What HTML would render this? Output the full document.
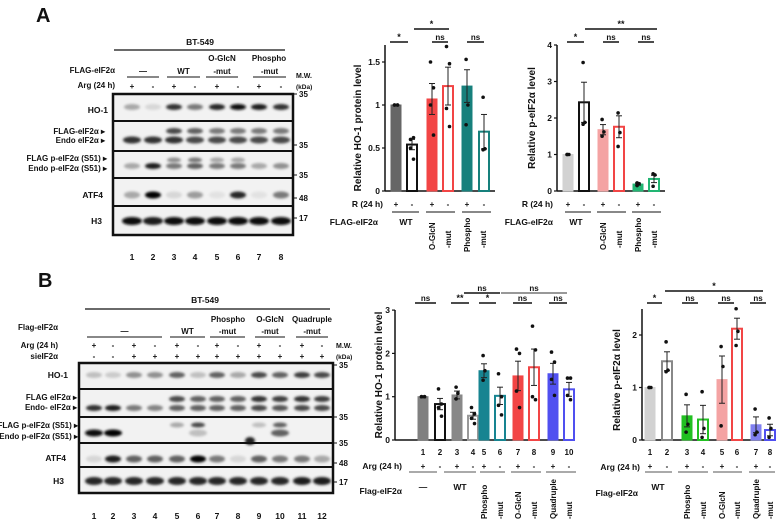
<!DOCTYPE html>
<html><head><meta charset="utf-8"><style>
html,body{margin:0;padding:0;background:#fff}
svg{display:block}
text{font-family:"Liberation Sans",Arial,sans-serif;font-weight:bold;fill:#111}
</style></head><body>
<svg id="fig" width="784" height="521" viewBox="0 0 784 521" xmlns="http://www.w3.org/2000/svg">
<defs><filter id="blur" x="-50%" y="-100%" width="200%" height="300%"><feGaussianBlur stdDeviation="1.2"/></filter></defs>
<text x="36" y="22" font-size="20">A</text>
<text x="38" y="287" font-size="20">B</text>
</svg>
<script>
// ---------- chart data ----------
const a1Values=[1.0,0.54,1.07,1.22,1.22,0.69];
const a1Errors=[0,0.06,0.18,0.22,0.19,0.2];
const a1Points=[[1,1,1,1],[0.6,0.62,0.5,0.37],[1.5,1.2,1.0,0.65],[1.68,1.48,0.96,0.75],[1.53,1.0,0.77],[1.09,0.49,0.48]];
const a1Ticks=[0,0.5,1,1.5];
const a1TickLabels=["0","0.5","1","1.5"];
const a2Values=[1.0,2.43,1.68,1.76,0.19,0.33];
const a2Errors=[0,0.55,0.14,0.3,0.03,0.1];
const a2Points=[[1,1,1],[3.52,1.88,1.83],[1.96,1.62,1.5],[2.14,1.6,1.22],[0.22,0.2,0.15],[0.47,0.44,0.13]];
const a2Ticks=[0,1,2,3,4];
const a2TickLabels=["0","1","2","3","4"];
const b1Values=[1.0,0.83,1.04,0.56,1.6,1.02,1.48,1.68,1.53,1.17];
const b1Errors=[0,0.13,0.09,0.08,0.16,0.2,0.34,0.42,0.24,0.16];
const b1Points=[[1,1,1,1],[1.18,0.83,0.75,0.55],[1.22,1.08,0.95],[0.75,0.6,0.5,0.38],[1.95,1.6,1.38],[1.53,1.0,0.8,0.58],[2.1,2.0,1.13,0.75],[2.63,2.08,1.0,0.93],[2.03,1.8,1.4,1.03],[1.43,1.43,1.03,0.93]];
const b1Ticks=[0,1,2,3];
const b1TickLabels=["0","1","2","3"];
const b2Values=[1.0,1.5,0.46,0.39,1.15,2.12,0.29,0.19];
const b2Errors=[0,0.18,0.21,0.27,0.45,0.2,0.15,0.11];
const b2Points=[[1,1,1],[1.87,1.33,1.3],[0.87,0.3,0.15],[0.92,0.22,0.05],[1.78,1.4,0.27],[2.5,2.07,1.8],[0.59,0.15,0.1],[0.42,0.22,0.05]];
const b2Ticks=[0,1,2];
const b2TickLabels=["0","1","2"];
// blot band intensities
const blotAHO1=[0.3,0.1,0.8,0.5,0.85,0.95,0.9,0.8];
const blotAFlag=[0,0,0.7,0.6,0.5,0.5,0.5,0.5];
const blotAEndo=[0.8,0.8,0.8,0.7,0.7,0.7,0.7,0.7];
const blotAPFlag=[0,0,0.4,0.5,0.3,0.3,0,0];
const blotAPEndo=[0.3,0.9,0.5,0.6,0.5,0.5,0.3,0.4];
const blotAATF4=[0.3,1,0.1,0.35,0.05,0.85,0.05,0.5];
const blotAH3=[0.95,0.9,0.95,0.95,0.95,0.95,0.95,0.95];
const blotBHO1=[0.2,0.15,0.4,0.4,0.6,0.2,0.6,0.3,0.7,0.6,0.75,0.7];
const blotBFlag=[0,0,0,0,0.7,0.6,0.6,0.6,0.8,0.75,0.8,0.75];
const blotBEndo=[0.8,0.9,0.5,0.45,0.6,0.6,0.6,0.6,0.7,0.65,0.7,0.7];
const blotBPFlag=[0,0,0,0,0.3,0.7,0,0,0.2,0.6,0,0];
const blotBPEndo=[0.95,1,0,0,0,0.2,0,0,0,0.6,0,0];
const blotBATF4=[0.1,0.9,0.6,0.6,0.6,1,0.5,0.1,0.6,0.5,0.5,0.3];
const blotBH3=[0.85,0.85,0.85,0.85,0.85,0.85,0.85,0.85,0.85,0.85,0.9,0.9];

const svg=document.getElementById('fig');
const NS='http://www.w3.org/2000/svg';
function el(tag,attrs,parent){const e=document.createElementNS(NS,tag);for(const k in attrs)e.setAttribute(k,attrs[k]);(parent||svg).appendChild(e);return e;}
function txt(x,y,s,size,anchor,name,rot){
  const t=el('text',{x:x,y:y,'font-size':size||8,'text-anchor':anchor||'middle'});
  if(rot)t.setAttribute('transform','rotate(-90 '+x+' '+y+')');
  t.textContent=s;
  
  
  return t;}
function line(x1,y1,x2,y2,w,c,name){const l=el('line',{x1:x1,y1:y1,x2:x2,y2:y2,stroke:c||'#111','stroke-width':w||1});
  
  return l;}

function chart(c){
  const y=v=>c.y0-v*c.unit;
  line(c.ax,c.y0,c.ax,c.yTop,1.5,'#111','y-axis');
  line(c.ax,c.y0,c.axEnd,c.y0,1.5,'#111','x-axis');
  c.ticks.forEach((t,i)=>{line(c.ax-3,y(t),c.ax,y(t),1.2,'#111','y-tick');txt(c.ax-5,y(t)+3,c.tickLabels[i],8.5,'end','y-tick-label');});
  txt(c.titleX,c.titleY,c.title,10,'middle','y-axis-title',true);
  c.values.forEach((v,i)=>{
    const cx=c.xs[i],w=10,col=c.colors[i],filled=c.filled[i];
    const r=el('rect',{x:cx-w/2,y:y(v),width:w,height:c.y0-y(v),fill:filled?col:'#fff',stroke:col,'stroke-width':filled?1:2});
    
    
    const e=c.errors[i];
    if(e>0){line(cx,y(v+e),cx,y(v-e),1,'#222','error-bar');line(cx-3,y(v+e),cx+3,y(v+e),1,'#222','error-cap');line(cx-3,y(v-e),cx+3,y(v-e),1,'#222','error-cap');}
    c.points[i].forEach((p,j)=>{const pt=el('circle',{cx:cx+(j%2?1.5:-1.5)*(c.points[i].length>3?1:0.6),cy:y(p),r:1.8,fill:'#111'});
      
      });
  });
  c.sig.forEach(s=>{line(s[0],s[2],s[1],s[2],1.5,s[4]||'#111','significance-line');txt((s[0]+s[1])/2,s[2]-2,s[3],s[3]=='ns'?8:9,'middle','significance-label');});
}

chart({ax:385,axEnd:495,y0:191,yTop:45,unit:86,ticks:a1Ticks,tickLabels:a1TickLabels,
  values:a1Values,errors:a1Errors,points:a1Points,xs:[396,412,432,448,467,484],
  colors:['#666','#111','#f24545','#f24545','#17807c','#17807c'],filled:[1,0,1,0,1,0],
  title:'Relative HO-1 protein level',titleX:361,titleY:128,
  sig:[[390,408,42,'*'],[414,449,29,'*'],[432,448,42,'ns'],[467,484,42,'ns']]});
chart({ax:557,axEnd:665,y0:191,yTop:45,unit:36.5,ticks:a2Ticks,tickLabels:a2TickLabels,
  values:a2Values,errors:a2Errors,points:a2Points,xs:[568,584,603,619,638,654],
  colors:['#d2d2d2','#111','#f4a3a3','#f24545','#22b573','#22b573'],filled:[1,0,1,0,1,0],
  title:'Relative p-eIF2α level',titleX:535,titleY:118,
  sig:[[567,584,42,'*'],[585,657,29,'**'],[603,619,42,'ns'],[638,654,42,'ns']]});
chart({ax:395,axEnd:573,y0:440,yTop:310,unit:43.3,ticks:b1Ticks,tickLabels:b1TickLabels,
  values:b1Values,errors:b1Errors,points:b1Points,xs:[423,440,457,473,484,500,518,534,553,569],
  colors:['#808080','#111','#888','#999','#178491','#178491','#f24545','#f24545','#5050f0','#5050f0'],filled:[1,0,1,0,1,0,1,0,1,0],
  title:'Relative HO-1 protein level',titleX:382,titleY:375,
  sig:[[415,436,303,'ns'],[451,469,303,'**'],[479,496,303,'*'],[513,532,303,'ns'],[549,567,303,'ns'],[464,500,293,'ns'],[501,567,293,'ns','#777']]});
chart({ax:642,axEnd:773,y0:440,yTop:309,unit:52.5,ticks:b2Ticks,tickLabels:b2TickLabels,
  values:b2Values,errors:b2Errors,points:b2Points,xs:[650,667,687,703,722,737,756,770],
  colors:['#d2d2d2','#888','#22c022','#22c022','#f4a3a3','#f24545','#8080f0','#5050f0'],filled:[1,0,1,0,1,0,1,0],
  title:'Relative p-eIF2α level',titleX:620,titleY:380,
  sig:[[647,662,303,'*'],[682,698,303,'ns'],[718,734,303,'ns'],[750,766,303,'ns'],[665,763,291,'*']]});

function pm(xs,yy,arr){xs.forEach((x,i)=>txt(x,yy,arr[i%arr.length],8,'middle','treatment-sign'));}
// A1
txt(383,207,'R (24 h)',8.5,'end','row-label-r');pm([396,412,432,448,467,484],207,['+','-']);
line(392,212,419,212,1,'#111','group-line');line(426,212,455,212,1,'#111','group-line');line(462,212,491,212,1,'#111','group-line');
txt(378,225,'FLAG-eIF2α',8.5,'end','row-label-flag');txt(406,225,'WT',8.5,'middle','group-wt');
txt(435,250,'O-GlcN',8,'start','group-oglcn',true);txt(451,248,'-mut',8,'start','group-mut',true);
txt(470,252,'Phospho',8,'start','group-phospho',true);txt(486,248,'-mut',8,'start','group-mut',true);
// A2
txt(553,207,'R (24 h)',8.5,'end','row-label-r');pm([568,584,603,619,638,654],207,['+','-']);
line(565,212,591,212,1,'#111','group-line');line(597,212,626,212,1,'#111','group-line');line(632,212,661,212,1,'#111','group-line');
txt(553,225,'FLAG-eIF2α',8.5,'end','row-label-flag');txt(576,225,'WT',8.5,'middle','group-wt');
txt(606,250,'O-GlcN',8,'start','group-oglcn',true);txt(622,248,'-mut',8,'start','group-mut',true);
txt(641,252,'Phospho',8,'start','group-phospho',true);txt(657,248,'-mut',8,'start','group-mut',true);
// B1
const b1x=[423,440,457,473,484,500,518,534,553,569];
b1x.forEach((x,i)=>txt(x,455,String(i+1),8,'middle','lane-number'));
txt(402,469,'Arg (24 h)',8.5,'end','row-label-arg');pm(b1x,469,['+','-']);
[[409,437],[444,476],[480,505],[511,541],[546,576]].forEach(p=>line(p[0],472,p[1],472,1,'#555','group-line'));
txt(402,494,'Flag-eIF2α',8.5,'end','row-label-flag');txt(423,490,'—',8.5,'middle','group-none');txt(460,490,'WT',8.5,'middle','group-wt');
[[487,'Phospho'],[503,'-mut'],[521,'O-GlcN'],[537,'-mut'],[556,'Quadruple'],[572,'-mut']].forEach(a=>txt(a[0],519,a[1],8,'start','group-name',true));
// B2
const b2x=[650,667,687,703,722,737,756,770];
b2x.forEach((x,i)=>txt(x,455,String(i+1),8,'middle','lane-number'));
txt(640,470,'Arg (24 h)',8.5,'end','row-label-arg');pm(b2x,469,['+','-']);
[[645,672],[678,708],[713,742],[749,775]].forEach(p=>line(p[0],472,p[1],472,1,'#555','group-line'));
txt(638,496,'Flag-eIF2α',8.5,'end','row-label-flag');txt(658,490,'WT',8.5,'middle','group-wt');
[[690,'Phospho'],[706,'-mut'],[725,'O-GlcN'],[740,'-mut'],[759,'Quadruple'],[773,'-mut']].forEach(a=>txt(a[0],519,a[1],8,'start','group-name',true));

// ---------- blots ----------
function bands(xs,yy,arr,w,h){arr.forEach((v,i)=>{if(v<=0.02)return;const g=Math.round(238-v*235);
  const b=el('ellipse',{cx:xs[i],cy:yy,rx:w,ry:h,fill:'rgb('+g+','+g+','+g+')',filter:'url(#blur)'});
  
  });}
function blot(name,x1,x2,ys){
  const r=el('rect',{x:x1,y:ys[0],width:x2-x1,height:ys[ys.length-1]-ys[0],fill:'#f2f2f2',stroke:'none'});
  
  
}
function blotFrame(x1,x2,ys){for(let i=1;i<ys.length-1;i++)line(x1,ys[i],x2,ys[i],2,'#111','blot-divider');
  const f=el('rect',{x:x1,y:ys[0],width:x2-x1,height:ys[ys.length-1]-ys[0],fill:'none',stroke:'#111','stroke-width':2.5});
  
  }
// Blot A
const aX=[132,153,174,195,217,238,259,281];const aY=[94,121,151,178,206,235];
blot('blot-a',113,293,aY);
bands(aX,107,blotAHO1,8,3);bands(aX,131,blotAFlag,8,3);bands(aX,140,blotAEndo,9,3.5);
bands(aX,160,blotAPFlag,7,2.5);bands(aX,166,blotAPEndo,8,3);bands(aX,195,blotAATF4,8,3.5);bands(aX,221,blotAH3,10,4);
blotFrame(113,293,aY);
aX.forEach((x,i)=>txt(x,260,String(i+1),8.5,'middle','lane-number'));
txt(200,45,'BT-549',8.5,'middle','cell-line');line(114,50,285,50,1.2,'#111','cell-line-rule');
txt(115,73,'FLAG-eIF2α',8,'end','row-label-flag');txt(115,88,'Arg (24 h)',8,'end','row-label-arg');
pm(aX,89,['+','-']);
[[127,159,'—'],[167,200,'WT'],[206,238,'-mut'],[253,286,'-mut']].forEach(g=>{line(g[0],77,g[1],77,1,'#111','group-line');txt((g[0]+g[1])/2,74,g[2],8,'middle','group-name');});
txt(222,61,'O-GlcN',8,'middle','group-oglcn');txt(269,61,'Phospho',8,'middle','group-phospho');
txt(296,78,'M.W.',7,'start','mw-title');txt(296,89,'(kDa)',6.5,'start','mw-unit');
[[97,'35'],[148,'35'],[178,'35'],[201,'48'],[221,'17']].forEach(m=>{line(293,m[0]-3,297,m[0]-3,1,'#111','mw-tick');txt(299,m[0],m[1],8,'start','mw-marker');});
txt(108,113,'HO-1',8.5,'end','row-ho1');
txt(105,134,'FLAG-eIF2α ▸',8,'end','row-flag-eif2a');txt(105,143,'Endo eIF2α ▸',8,'end','row-endo-eif2a');
txt(107,161,'FLAG p-eIF2α (S51) ▸',8,'end','row-flag-peif2a');txt(107,171,'Endo p-eIF2α (S51) ▸',8,'end','row-endo-peif2a');
txt(103,198,'ATF4',8.5,'end','row-atf4');txt(102,224,'H3',8.5,'end','row-h3');
// Blot B
const bX=[94,113,134,155,177,198,217,238,259,280,302,322];const bY=[363,389,417,443,467,493];
blot('blot-b',79,333,bY);
bands(bX,375,blotBHO1,8,3);bands(bX,399,blotBFlag,8,3);bands(bX,408,blotBEndo,8,3);
bands(bX,425,blotBPFlag,7,2.5);bands(bX,433,blotBPEndo,9,3.5);bands(bX,459,blotBATF4,8,3.5);bands(bX,481,blotBH3,9,4);
const spot=el('ellipse',{cx:250,cy:441,rx:5,ry:4,fill:'#222',filter:'url(#blur)'});


blotFrame(79,333,bY);
bX.forEach((x,i)=>txt(x,519,String(i+1),8.5,'middle','lane-number'));
txt(205,303,'BT-549',8.5,'middle','cell-line');line(85,309,330,309,1.2,'#111','cell-line-rule');
txt(58,330,'Flag-eIF2α',8,'end','row-label-flag');txt(58,348,'Arg (24 h)',8,'end','row-label-arg');txt(58,359,'sieIF2α',8,'end','row-label-si');
pm(bX,348,['+','-']);pm(bX,359,['-','-','+','+','+','+','+','+','+','+','+','+']);
[[87,162,'—'],[170,205,'WT'],[210,245,'-mut'],[255,285,'-mut'],[296,328,'-mut']].forEach(g=>{line(g[0],337,g[1],337,1,'#111','group-line');txt((g[0]+g[1])/2,334,g[2],8,'middle','group-name');});
txt(228,322,'Phospho',8,'middle','group-phospho');txt(270,322,'O-GlcN',8,'middle','group-oglcn');txt(312,322,'Quadruple',8,'middle','group-quadruple');
txt(336,348,'M.W.',7,'start','mw-title');txt(336,359,'(kDa)',6.5,'start','mw-unit');
[[368,'35'],[420,'35'],[446,'35'],[466,'48'],[485,'17']].forEach(m=>{line(333,m[0]-3,337,m[0]-3,1,'#111','mw-tick');txt(339,m[0],m[1],8,'start','mw-marker');});
txt(68,378,'HO-1',8.5,'end','row-ho1');
txt(77,400,'FLAG eIF2α ▸',8,'end','row-flag-eif2a');txt(77,410,'Endo- eIF2α ▸',8,'end','row-endo-eif2a');
txt(78,428,'FLAG p-eIF2α (S51) ▸',8,'end','row-flag-peif2a');txt(78,439,'Endo p-eIF2α (S51) ▸',8,'end','row-endo-peif2a');
txt(66,461,'ATF4',8.5,'end','row-atf4');txt(64,484,'H3',8.5,'end','row-h3');
</script>
</body></html>
